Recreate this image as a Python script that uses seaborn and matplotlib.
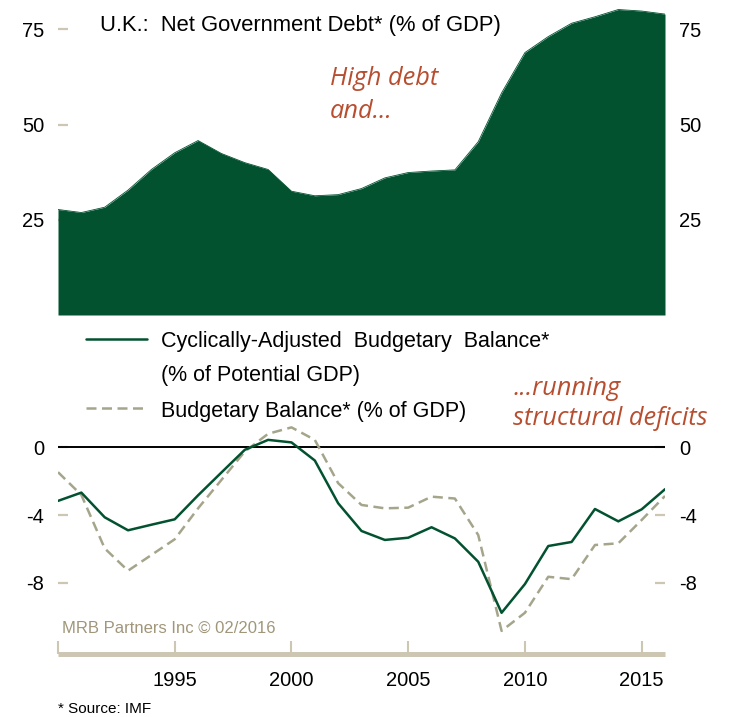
import numpy as np
import pandas as pd
import matplotlib
matplotlib.use("Agg")
import matplotlib.pyplot as plt
import seaborn as sns
from matplotlib.lines import Line2D

# ---------------- data ----------------
years = list(range(1990, 2017))
net_debt = [27.7, 26.9, 28.3, 32.8, 38.2, 42.6, 45.8, 42.4, 40.0, 38.2,
            32.5, 31.3, 31.6, 33.2, 36.0, 37.4, 37.8, 38.1, 45.5, 58.3,
            68.9, 73.1, 76.6, 78.3, 80.2, 79.8, 79.0]
cyc_adj_balance = [-3.16, -2.67, -4.13, -4.90, -4.57, -4.25, -2.83, -1.48, -0.14, 0.45,
                   0.30, -0.77, -3.30, -4.94, -5.47, -5.34, -4.72, -5.38, -6.76, -9.78,
                   -8.08, -5.83, -5.59, -3.64, -4.37, -3.66, -2.47]
budget_balance = [-1.46, -2.81, -5.97, -7.29, -6.36, -5.43, -3.60, -1.92, -0.24, 0.81,
                  1.19, 0.45, -2.11, -3.40, -3.60, -3.56, -2.91, -3.02, -5.18, -10.85,
                  -9.78, -7.65, -7.79, -5.77, -5.67, -4.29, -2.87]
top_yticks = [25, 50, 75]
bot_yticks = [-8, -4, 0]
x_ticks = [1990, 1995, 2000, 2005, 2010, 2015]
x_ticklabels = ["", "1995", "2000", "2005", "2010", "2015"]

title_text = "U.K.:  Net Government Debt* (% of GDP)"
legend_cyc = ["Cyclically-Adjusted  Budgetary  Balance*", "(% of Potential GDP)"]
legend_bud = "Budgetary Balance* (% of GDP)"

df = pd.DataFrame({"year": years, "debt": net_debt,
                   "cyc": cyc_adj_balance, "bud": budget_balance})

# ---------------- style ----------------
sns.set_theme(style="white")
plt.rcParams["font.family"] = ["Liberation Sans", "DejaVu Sans"]
plt.rcParams["text.color"] = "black"

GREEN = "#025230"
DASH = "#a5a58c"
TAN = "#cdc6b2"
MRB = "#a0967a"
ANNO = "#b84e30"
DASHES = (0, (4.0, 2.2))

W, H = 730, 717
fig = plt.figure(figsize=(W / 100, H / 100), dpi=100)


def fx(x):
    return x / W


def fy(y):
    return 1 - y / H


L, R = 58, 665
# ---------------- top panel ----------------
ax1 = fig.add_axes([fx(L), fy(315), (R - L) / W, 315 / H])
ax1.fill_between(df["year"], df["debt"], 0, color=GREEN, lw=0, zorder=1)
sns.lineplot(data=df, x="year", y="debt", ax=ax1, color=GREEN, lw=0.6, zorder=1)
ax1.set_xlim(1990, 2016)
ax1.set_ylim(0, 82.7)
ax1.set_axisbelow(True)
for s in ax1.spines.values():
    s.set_visible(False)
ax1.set_xticks([])
ax1.set_yticks(top_yticks)
ax1.set_yticklabels([str(v) for v in top_yticks])
ax1.tick_params(axis="y", direction="in", length=7, width=1.6, color=TAN,
                left=True, right=True, labelleft=True, labelright=True,
                pad=10, labelsize=14.5, labelcolor="black")
ax1.set_xlabel("")
ax1.set_ylabel("")

# ---------------- bottom panel ----------------
ax2 = fig.add_axes([fx(L), fy(654.2), (R - L) / W, (654.2 - 330) / H])
ax2.axhline(0, color="black", lw=1.4, zorder=2)
sns.lineplot(data=df, x="year", y="bud", ax=ax2, color=DASH, lw=1.8,
             linestyle=DASHES, zorder=3)
sns.lineplot(data=df, x="year", y="cyc", ax=ax2, color=GREEN, lw=1.8, zorder=4)
ax2.set_xlim(1990, 2016)
ax2.set_ylim(-12.23, 6.95)
for k in ["top", "left", "right"]:
    ax2.spines[k].set_visible(False)
ax2.spines["bottom"].set_color(TAN)
ax2.spines["bottom"].set_linewidth(3.6)
ax2.spines["bottom"].set_capstyle("butt")
ax2.set_xticks(x_ticks)
ax2.set_xticklabels(x_ticklabels)
ax2.set_yticks(bot_yticks)
ax2.set_yticklabels([str(v) for v in bot_yticks])
ax2.tick_params(axis="x", direction="in", length=9.7, width=1.5, color=TAN,
                bottom=True, pad=12, labelsize=14.5, labelcolor="black")
ax2.tick_params(axis="y", direction="in", length=7, width=1.6, color=TAN,
                left=True, right=True, labelleft=True, labelright=True,
                pad=10, labelsize=14.5, labelcolor="black")
ax2.set_xlabel("")
ax2.set_ylabel("")

# ---------------- texts ----------------
fig.text(fx(100), fy(31), title_text, fontsize=15.8, color="black",
         va="baseline", ha="left")

anno_font = dict(family=["Open Sans", "DejaVu Sans"], style="italic",
                 fontsize=18.3, color=ANNO, va="baseline", ha="left")
fig.text(fx(330), fy(85), "High debt", **anno_font)
fig.text(fx(330), fy(118), "and...", **anno_font)
fig.text(fx(513), fy(395), "...running", **anno_font)
fig.text(fx(513), fy(425), "structural deficits", **anno_font)

# legend (manual)
fig.add_artist(Line2D([fx(86), fx(147)], [fy(339), fy(339)], transform=fig.transFigure,
                      color=GREEN, lw=1.8))
fig.add_artist(Line2D([fx(86), fx(147)], [fy(408.3), fy(408.3)], transform=fig.transFigure,
                      color=DASH, lw=1.8, linestyle=DASHES))
fig.text(fx(161), fy(347), legend_cyc[0], fontsize=15.5, color="black",
         va="baseline", ha="left")
fig.text(fx(161), fy(381), legend_cyc[1], fontsize=15.5, color="black",
         va="baseline", ha="left")
fig.text(fx(161), fy(416.7), legend_bud, fontsize=15.5, color="black",
         va="baseline", ha="left")

fig.text(fx(62), fy(633.3), "MRB Partners Inc \u00a9 02/2016", fontsize=12,
         color=MRB, va="baseline", ha="left")
fig.text(fx(58), fy(713.3), "* Source: IMF", fontsize=11, color="black",
         va="baseline", ha="left")

fig.savefig("out.png", dpi=100)
